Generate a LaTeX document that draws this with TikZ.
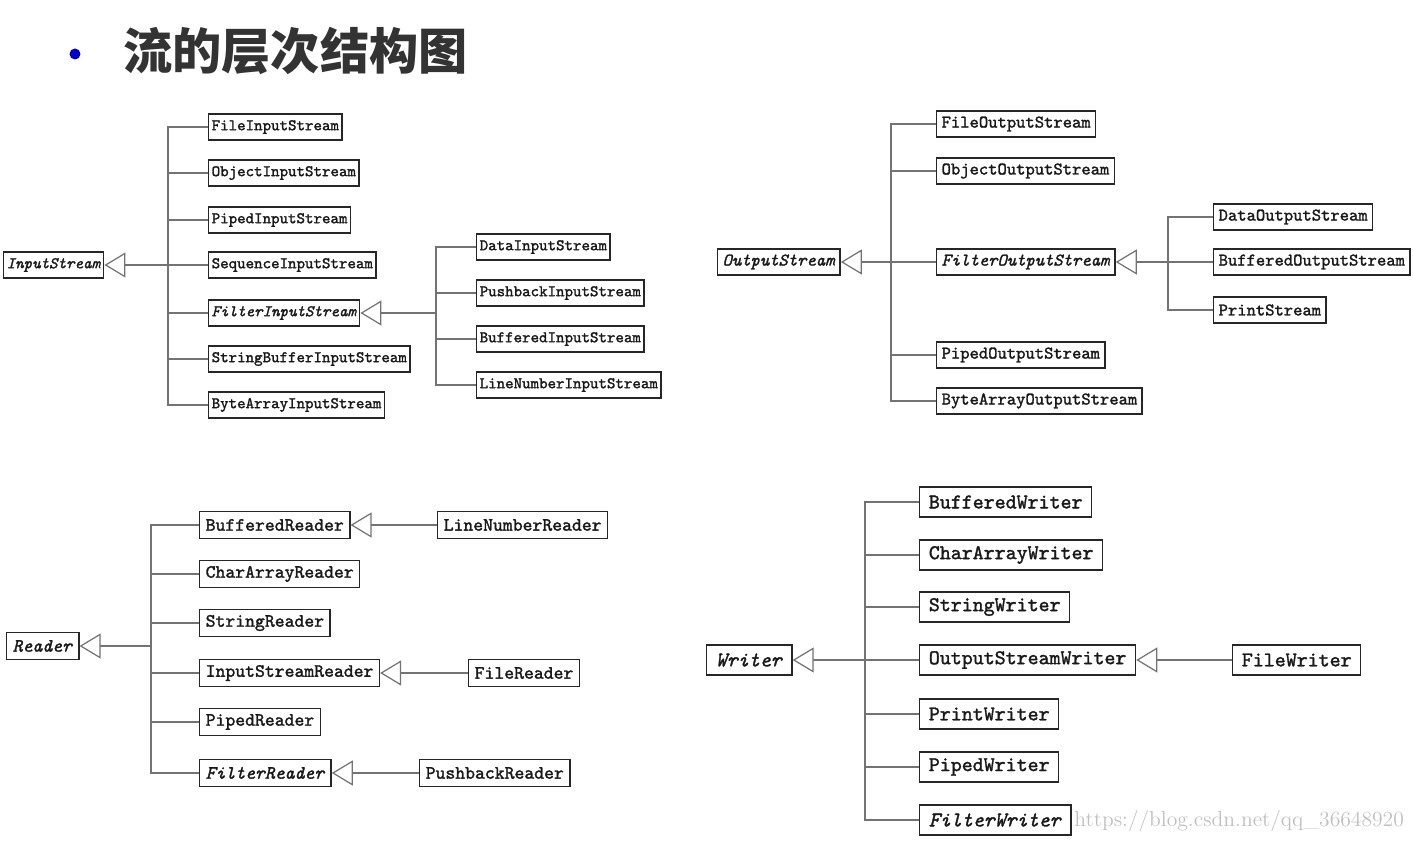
\documentclass[tikz,border=0pt]{standalone}
\usepackage{fontspec}
\newfontfamily\cjk{Noto Sans CJK SC}
\newfontfamily\clsfont{lmmono10-regular.otf}[
  ItalicFont=lmmono10-italic.otf,
  BoldFont=lmmono10-regular.otf, BoldFeatures={FakeBold=1.6},
  BoldItalicFont=lmmono10-italic.otf, BoldItalicFeatures={FakeBold=1.6}]
\usetikzlibrary{arrows.meta}
\definecolor{bulletblue}{RGB}{0,0,200}

\begin{document}
\begin{tikzpicture}[x=0.02cm,y=-0.02cm,
    cls/.style={draw=black!85,line width=0.8pt,fill=white,anchor=west,text=black!90,inner ysep=0pt},
    inbox/.style={cls,font=\fontsize{9.2}{10}\clsfont\bfseries,minimum height=0.52cm,inner xsep=1.7pt},
    outbox/.style={cls,font=\fontsize{10.1}{11}\clsfont\bfseries,minimum height=0.52cm,inner xsep=2.8pt},
    rdbox/.style={cls,font=\fontsize{10.7}{12}\clsfont\bfseries,minimum height=0.54cm,inner xsep=3.4pt},
    wrbox/.style={cls,font=\fontsize{11.9}{13}\clsfont\bfseries,minimum height=0.60cm,inner xsep=5.2pt},
    link/.style={draw=black!55,line width=0.7pt},
    inh/.style={link,-{Triangle[open,length=0.42cm,width=0.5cm,fill=white]}}]
\useasboundingbox (0,0) rectangle (1413,841);
% title
\node[circle,fill=bulletblue,inner sep=0pt,minimum size=0.22cm] (dot) at (75,54) {};
\node[anchor=west,inner sep=0pt,text=black!80,font=\fontsize{28}{30}\cjk\bfseries] (title) at (123,51) {流的层次结构图};
% InputStream tree
\node[inbox] (InputStream) at (3,265) {\textit{InputStream}};
\coordinate (inbus) at (168,265);
\node[inbox] (FileInputStream)         at (208,127) {FileInputStream};
\node[inbox] (ObjectInputStream)       at (208,173) {ObjectInputStream};
\node[inbox] (PipedInputStream)        at (208,220) {PipedInputStream};
\node[inbox] (SequenceInputStream)     at (208,265) {SequenceInputStream};
\node[inbox] (FilterInputStream)       at (208,313) {\textit{FilterInputStream}};
\node[inbox] (StringBufferInputStream) at (208,359) {StringBufferInputStream};
\node[inbox] (ByteArrayInputStream)    at (208,405) {ByteArrayInputStream};
\draw[inh]  (inbus) -- (InputStream.east);
\draw[link] (inbus) |- (FileInputStream.west);
\draw[link] (inbus) |- (ObjectInputStream.west);
\draw[link] (inbus) |- (PipedInputStream.west);
\draw[link] (inbus) |- (SequenceInputStream.west);
\draw[link] (inbus) |- (FilterInputStream.west);
\draw[link] (inbus) |- (StringBufferInputStream.west);
\draw[link] (inbus) |- (ByteArrayInputStream.west);
% FilterInputStream subtree
\coordinate (filbus) at (436,313);
\node[inbox] (DataInputStream)       at (476,247) {DataInputStream};
\node[inbox] (PushbackInputStream)   at (476,293) {PushbackInputStream};
\node[inbox] (BufferedInputStream)   at (476,339) {BufferedInputStream};
\node[inbox] (LineNumberInputStream) at (476,385) {LineNumberInputStream};
\draw[inh]  (filbus) -- (FilterInputStream.east);
\draw[link] (filbus) |- (DataInputStream.west);
\draw[link] (filbus) |- (PushbackInputStream.west);
\draw[link] (filbus) |- (BufferedInputStream.west);
\draw[link] (filbus) |- (LineNumberInputStream.west);
% OutputStream tree
\node[outbox] (OutputStream) at (717,262) {\textit{OutputStream}};
\coordinate (outbus) at (891,262);
\node[outbox] (FileOutputStream)      at (936,124) {FileOutputStream};
\node[outbox] (ObjectOutputStream)    at (936,171) {ObjectOutputStream};
\node[outbox] (FilterOutputStream)    at (936,262) {\textit{FilterOutputStream}};
\node[outbox] (PipedOutputStream)     at (936,355) {PipedOutputStream};
\node[outbox] (ByteArrayOutputStream) at (936,401) {ByteArrayOutputStream};
\draw[inh]  (outbus) -- (OutputStream.east);
\draw[link] (outbus) |- (FileOutputStream.west);
\draw[link] (outbus) |- (ObjectOutputStream.west);
\draw[link] (outbus) |- (FilterOutputStream.west);
\draw[link] (outbus) |- (PipedOutputStream.west);
\draw[link] (outbus) |- (ByteArrayOutputStream.west);
% FilterOutputStream subtree
\coordinate (fobus) at (1168,262);
\node[outbox] (DataOutputStream)     at (1213,217) {DataOutputStream};
\node[outbox] (BufferedOutputStream) at (1213,262) {BufferedOutputStream};
\node[outbox] (PrintStream)          at (1213,310) {PrintStream};
\draw[inh]  (fobus) -- (FilterOutputStream.east);
\draw[link] (fobus) |- (DataOutputStream.west);
\draw[link] (fobus) |- (BufferedOutputStream.west);
\draw[link] (fobus) |- (PrintStream.west);
% Reader tree
\node[rdbox] (Reader) at (6,646) {\textit{Reader}};
\coordinate (rdbus) at (151,646);
\node[rdbox] (BufferedReader)    at (199,525) {BufferedReader};
\node[rdbox] (CharArrayReader)   at (199,574) {CharArrayReader};
\node[rdbox] (StringReader)      at (199,623) {StringReader};
\node[rdbox] (InputStreamReader) at (199,673) {InputStreamReader};
\node[rdbox] (PipedReader)       at (199,722) {PipedReader};
\node[rdbox] (FilterReader)      at (199,773) {\textit{FilterReader}};
\draw[inh]  (rdbus) -- (Reader.east);
\draw[link] (rdbus) |- (BufferedReader.west);
\draw[link] (rdbus) |- (CharArrayReader.west);
\draw[link] (rdbus) |- (StringReader.west);
\draw[link] (rdbus) |- (InputStreamReader.west);
\draw[link] (rdbus) |- (PipedReader.west);
\draw[link] (rdbus) |- (FilterReader.west);
% Reader subclasses
\node[rdbox] (LineNumberReader) at (437,525) {LineNumberReader};
\node[rdbox] (FileReader)       at (468,673) {FileReader};
\node[rdbox] (PushbackReader)   at (419,773) {PushbackReader};
\draw[inh] (LineNumberReader.west) -- (BufferedReader.east);
\draw[inh] (FileReader.west) -- (InputStreamReader.east);
\draw[inh] (PushbackReader.west) -- (FilterReader.east);
% Writer tree
\node[wrbox] (Writer) at (706,660) {\textit{Writer}};
\coordinate (wrbus) at (865,660);
\node[wrbox] (BufferedWriter)     at (919,502) {BufferedWriter};
\node[wrbox] (CharArrayWriter)    at (919,555) {CharArrayWriter};
\node[wrbox] (StringWriter)       at (919,607) {StringWriter};
\node[wrbox] (OutputStreamWriter) at (919,660) {OutputStreamWriter};
\node[wrbox] (PrintWriter)        at (919,714) {PrintWriter};
\node[wrbox] (PipedWriter)        at (919,767) {PipedWriter};
\node[wrbox] (FilterWriter)       at (919,820) {\textit{FilterWriter}};
\draw[inh]  (wrbus) -- (Writer.east);
\draw[link] (wrbus) |- (BufferedWriter.west);
\draw[link] (wrbus) |- (CharArrayWriter.west);
\draw[link] (wrbus) |- (StringWriter.west);
\draw[link] (wrbus) |- (OutputStreamWriter.west);
\draw[link] (wrbus) |- (PrintWriter.west);
\draw[link] (wrbus) |- (PipedWriter.west);
\draw[link] (wrbus) |- (FilterWriter.west);
\node[wrbox] (FileWriter) at (1232,660) {FileWriter};
\draw[inh] (FileWriter.west) -- (OutputStreamWriter.east);
% watermark
\node[anchor=west,inner sep=0pt,text=black!25,font=\fontsize{12.3}{14}\selectfont] (mark) at (1074,821) {https://blog.csdn.net/qq\_36648920};
\end{tikzpicture}
\end{document}
